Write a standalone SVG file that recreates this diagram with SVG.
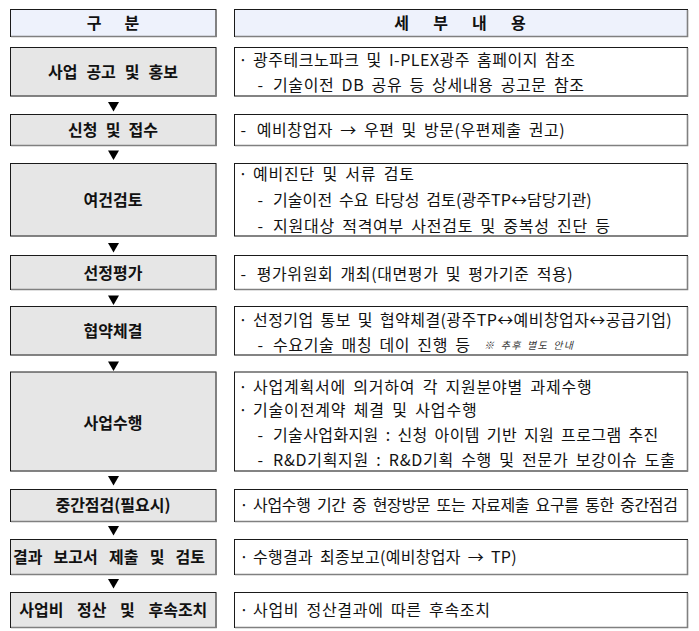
<svg xmlns="http://www.w3.org/2000/svg" width="699" height="631" viewBox="0 0 699 631">
<style>
  .hd { fill: #eef2fc; stroke: #1a1a1a; stroke-width: 1; }
  .lb { fill: #e6e6e6; stroke: #1a1a1a; stroke-width: 1; }
  .rb { fill: #ffffff; stroke: #1a1a1a; stroke-width: 1; }
  .sh { fill: none; stroke: #808080; stroke-width: 1.6; }
  .lt { font-family: "Noto Sans CJK KR", "Noto Sans", sans-serif; font-size: 16px; font-weight: bold; fill: #111; text-anchor: middle; }
  .rt { font-family: "Noto Sans CJK KR", "Noto Sans", sans-serif; font-size: 16px; fill: #111; word-spacing: 3px; }
  .nt { font-family: "Noto Sans CJK KR", "Noto Sans", sans-serif; font-size: 10px; font-style: italic; fill: #333; word-spacing: 2px; }
  .ar { fill: #000; }
</style>
<defs>
  <path id="tri" d="M-5.5,0 L5.5,0 L0,9.5 Z"/>
</defs>
<rect x="0" y="0" width="699" height="631" fill="#ffffff"/>

<g id="header-left">
  <rect class="hd" x="10.5" y="9.5" width="205.5" height="27"/>
  <path class="sh" d="M216,10 V36.5 H11"/>
  <text class="lt" x="113" y="28.5" style="word-spacing:19.4px">구 분</text>
</g>
<g id="header-right">
  <rect class="hd" x="234.5" y="9.5" width="453" height="27"/>
  <path class="sh" d="M687.5,10 V36.5 H235"/>
  <text class="lt" x="460" y="28.5" style="word-spacing:20.5px">세 부 내 용</text>
</g>

<g id="step1">
  <rect class="lb" x="10.5" y="47.5" width="205.5" height="48.5"/>
  <path class="sh" d="M216,48 V96 H11"/>
  <text class="lt" x="113" y="77.5" style="word-spacing:5.4px">사업 공고 및 홍보</text>
</g>
<g id="detail1">
  <rect class="rb" x="234.5" y="47.5" width="453" height="48.5"/>
  <path class="sh" d="M687.5,48 V96 H235"/>
  <text class="rt" y="66"><tspan x="238.5">·</tspan><tspan x="253" textLength="322" lengthAdjust="spacing">광주테크노파크 및 I-PLEX광주 홈페이지 참조</tspan></text>
  <text class="rt" y="91"><tspan x="257.5">-</tspan><tspan x="273" textLength="311" lengthAdjust="spacing">기술이전 DB 공유 등 상세내용 공고문 참조</tspan></text>
</g>

<g id="step2">
  <rect class="lb" x="10.5" y="114.5" width="205.5" height="31"/>
  <path class="sh" d="M216,115 V145.5 H11"/>
  <text class="lt" x="113" y="135.5" style="word-spacing:4.6px">신청 및 접수</text>
</g>
<g id="detail2">
  <rect class="rb" x="234.5" y="114.5" width="453" height="31"/>
  <path class="sh" d="M687.5,115 V145.5 H235"/>
  <text class="rt" y="136"><tspan x="240.5">-</tspan><tspan x="256.7" textLength="308" lengthAdjust="spacing">예비창업자 → 우편 및 방문(우편제출 권고)</tspan></text>
</g>

<g id="step3">
  <rect class="lb" x="10.5" y="163.5" width="205.5" height="72.5"/>
  <path class="sh" d="M216,164 V236 H11"/>
  <text class="lt" x="113" y="205.5">여건검토</text>
</g>
<g id="detail3">
  <rect class="rb" x="234.5" y="163.5" width="453" height="72.5"/>
  <path class="sh" d="M687.5,164 V236 H235"/>
  <text class="rt" y="179.5"><tspan x="238.5">·</tspan><tspan x="253" textLength="161" lengthAdjust="spacing">예비진단 및 서류 검토</tspan></text>
  <text class="rt" y="206"><tspan x="257.5">-</tspan><tspan x="273" textLength="318.7" lengthAdjust="spacing">기술이전 수요 타당성 검토(광주TP↔담당기관)</tspan></text>
  <text class="rt" y="232"><tspan x="257.5">-</tspan><tspan x="273" textLength="337" lengthAdjust="spacing">지원대상 적격여부 사전검토 및 중복성 진단 등</tspan></text>
</g>

<g id="step4">
  <rect class="lb" x="10.5" y="255.5" width="205.5" height="34"/>
  <path class="sh" d="M216,256 V289.5 H11"/>
  <text class="lt" x="113" y="279">선정평가</text>
</g>
<g id="detail4">
  <rect class="rb" x="234.5" y="255.5" width="453" height="34"/>
  <path class="sh" d="M687.5,256 V289.5 H235"/>
  <text class="rt" y="279.5"><tspan x="240.5">-</tspan><tspan x="256.7" textLength="316" lengthAdjust="spacing">평가위원회 개최(대면평가 및 평가기준 적용)</tspan></text>
</g>

<g id="step5">
  <rect class="lb" x="10.5" y="306.5" width="205.5" height="48.5"/>
  <path class="sh" d="M216,307 V355 H11"/>
  <text class="lt" x="113" y="337">협약체결</text>
</g>
<g id="detail5">
  <rect class="rb" x="234.5" y="306.5" width="453" height="48.5"/>
  <path class="sh" d="M687.5,307 V355 H235"/>
  <text class="rt" y="326"><tspan x="238.5">·</tspan><tspan x="253" textLength="418.7" lengthAdjust="spacing">선정기업 통보 및 협약체결(광주TP↔예비창업자↔공급기업)</tspan></text>
  <text class="rt" y="351"><tspan x="257.5">-</tspan><tspan x="273" textLength="197" lengthAdjust="spacing">수요기술 매칭 데이 진행 등</tspan></text>
  <text class="nt" x="484" y="349" textLength="89" lengthAdjust="spacing">※ 추후 별도 안내</text>
</g>

<g id="step6">
  <rect class="lb" x="10.5" y="372" width="205.5" height="99"/>
  <path class="sh" d="M216,372.5 V471 H11"/>
  <text class="lt" x="113" y="429">사업수행</text>
</g>
<g id="detail6">
  <rect class="rb" x="234.5" y="372" width="453" height="99"/>
  <path class="sh" d="M687.5,372.5 V471 H235"/>
  <text class="rt" y="392.5"><tspan x="238.5">·</tspan><tspan x="253" textLength="338.7" lengthAdjust="spacing">사업계획서에 의거하여 각 지원분야별 과제수행</tspan></text>
  <text class="rt" y="416"><tspan x="238.5">·</tspan><tspan x="253" textLength="223.7" lengthAdjust="spacing">기술이전계약 체결 및 사업수행</tspan></text>
  <text class="rt" y="441"><tspan x="257.5">-</tspan><tspan x="273" textLength="385.3" lengthAdjust="spacing">기술사업화지원 : 신청 아이템 기반 지원 프로그램 추진</tspan></text>
  <text class="rt" y="466"><tspan x="257.5">-</tspan><tspan x="273" textLength="402" lengthAdjust="spacing">R&amp;D기획지원 : R&amp;D기획 수행 및 전문가 보강이슈 도출</tspan></text>
</g>

<g id="step7">
  <rect class="lb" x="10.5" y="489.5" width="205.5" height="32"/>
  <path class="sh" d="M216,490 V521.5 H11"/>
  <text class="lt" x="113" y="511">중간점검(필요시)</text>
</g>
<g id="detail7">
  <rect class="rb" x="234.5" y="489.5" width="453" height="32"/>
  <path class="sh" d="M687.5,490 V521.5 H235"/>
  <text class="rt" y="511"><tspan x="239.5">·</tspan><tspan x="253" textLength="425" lengthAdjust="spacing">사업수행 기간 중 현장방문 또는 자료제출 요구를 통한 중간점검</tspan></text>
</g>

<g id="step8">
  <rect class="lb" x="10.5" y="539.5" width="205.5" height="35"/>
  <path class="sh" d="M216,540 V574.5 H11"/>
  <text class="lt" x="109" y="562.5" style="word-spacing:7.6px">결과 보고서 제출 및 검토</text>
</g>
<g id="detail8">
  <rect class="rb" x="234.5" y="539.5" width="453" height="35"/>
  <path class="sh" d="M687.5,540 V574.5 H235"/>
  <text class="rt" y="562.5"><tspan x="239.5">·</tspan><tspan x="253" textLength="263.7" lengthAdjust="spacing">수행결과 최종보고(예비창업자 → TP)</tspan></text>
</g>

<g id="step9">
  <rect class="lb" x="10.5" y="592.5" width="205.5" height="35"/>
  <path class="sh" d="M216,593 V627.5 H11"/>
  <text class="lt" x="113.3" y="616" style="word-spacing:10px">사업비 정산 및 후속조치</text>
</g>
<g id="detail9">
  <rect class="rb" x="234.5" y="592.5" width="453" height="35"/>
  <path class="sh" d="M687.5,593 V627.5 H235"/>
  <text class="rt" y="616"><tspan x="239.5">·</tspan><tspan x="253" textLength="237" lengthAdjust="spacing">사업비 정산결과에 따른 후속조치</tspan></text>
</g>

<g id="connectors">
  <use href="#tri" class="ar" x="113.5" y="102"/>
  <use href="#tri" class="ar" x="113.5" y="150.5"/>
  <use href="#tri" class="ar" x="113.5" y="243"/>
  <use href="#tri" class="ar" x="113.5" y="295.5"/>
  <use href="#tri" class="ar" x="113.5" y="361.5"/>
  <use href="#tri" class="ar" x="113.5" y="476"/>
  <use href="#tri" class="ar" x="113.5" y="526"/>
  <use href="#tri" class="ar" x="113.5" y="579"/>
</g>
</svg>
